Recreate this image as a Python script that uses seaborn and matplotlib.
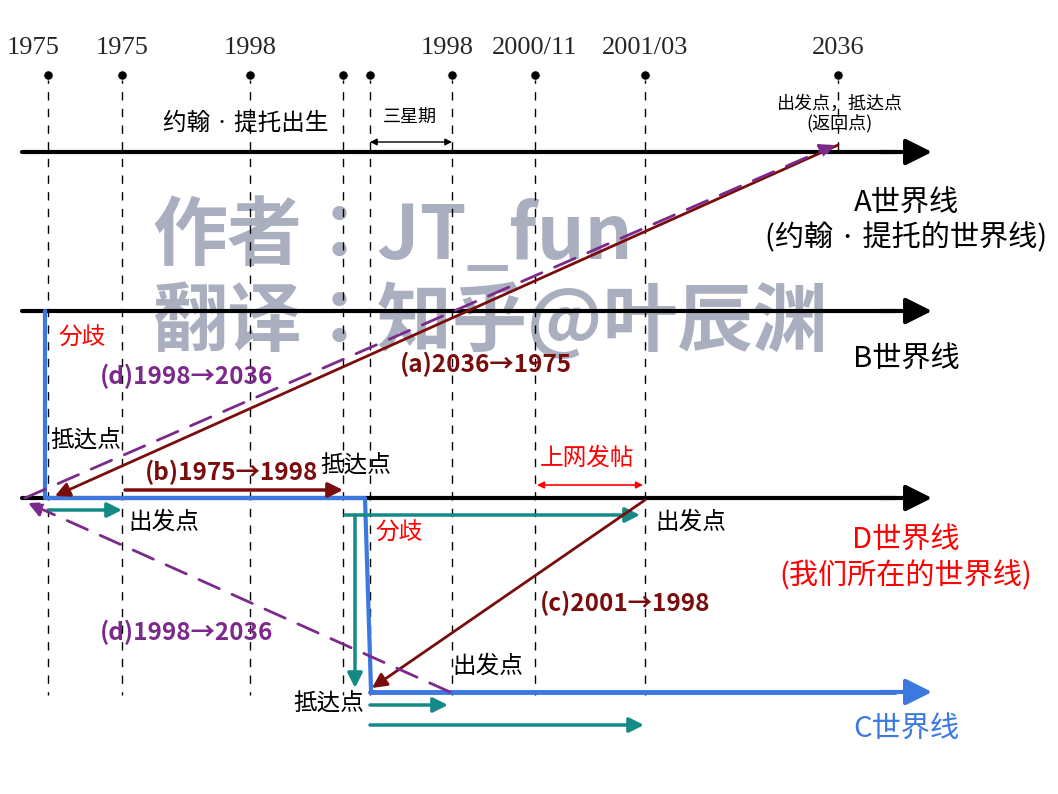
import matplotlib.pyplot as plt
import seaborn as sns

sns.set_theme(style="white")
cjk = ["Noto Sans CJK SC", "Noto Sans CJK JP", "Noto Sans CJK TC", "DejaVu Sans"]

# timeline events (x in pixel space of the diagram)
top_labels = ["1975", "1975", "1998", "1998", "2000/11", "2001/03", "2036"]
top_label_x = [33, 122, 250, 447, 535, 645, 838]
dot_x = [48, 122, 250, 343, 370, 452, 535, 645, 838]
guide_x = [48, 122, 250, 343, 370, 452, 535, 645]

# world lines y positions
world_y = {"A": 152, "B": 311, "D": 498}

fig = plt.figure(figsize=(10.58, 7.94), dpi=100)
ax = fig.add_axes([0, 0, 1, 1])
ax.set_xlim(0, 1058)
ax.set_ylim(794, 0)
ax.axis("off")

red = "#7a0c0c"
purple = "#7b2a8c"
teal = "#138a86"
blue = "#3b78e0"

def arrow(x0, y0, x1, y1, color, lw=2.5, style="-|>", ms=22, ls="-"):
    ax.annotate("", xy=(x1, y1), xytext=(x0, y0),
                arrowprops=dict(arrowstyle=style, color=color, lw=lw,
                                mutation_scale=ms, linestyle=ls,
                                shrinkA=0, shrinkB=0))

# guides
for x in guide_x:
    ax.plot([x, x], [75, 695], color="black", lw=1, ls=(0, (6, 6)))
ax.plot([838, 838], [75, 150], color="black", lw=1, ls=(0, (6, 6)))
sns.scatterplot(x=dot_x, y=[75] * len(dot_x), color="black", s=45, ax=ax, zorder=5)
for t, x in zip(top_labels, top_label_x):
    ax.text(x, 48, t, fontsize=19, family="Liberation Serif", ha="center", va="center")

# watermark
ax.text(152, 237, "作者：JT_fun", fontsize=54, family=cjk, weight="bold",
        color="#9aa1b3", alpha=0.85, va="center", zorder=1)
ax.text(152, 322, "翻译：知乎@叶辰渊", fontsize=54, family=cjk, weight="bold",
        color="#9aa1b3", alpha=0.85, va="center", zorder=1)

# world lines
for y in world_y.values():
    ax.plot([22, 895], [y, y], color="black", lw=3)
    arrow(880, y, 932, y, "black", lw=3, ms=40)
ax.plot([370, 895], [692, 692], color=blue, lw=3.5)
arrow(880, 692, 932, 692, blue, lw=3, ms=40)

# blue branch path
ax.plot([45, 45, 365, 371], [311, 498, 498, 690], color=blue, lw=3)

# teal arrows
arrow(48, 510, 122, 510, teal)
arrow(345, 515, 640, 515, teal)
arrow(355, 515, 355, 688, teal)
arrow(370, 705, 448, 705, teal)
arrow(370, 725, 644, 725, teal)

# dark red trips
arrow(838, 145, 55, 496, red, lw=2)
arrow(125, 490, 343, 490, red, lw=2.5)
arrow(645, 500, 372, 688, red, lw=2)

# purple dashed trips
arrow(25, 498, 835, 145, purple, lw=2, ls=(0, (8, 5)))
arrow(450, 692, 28, 503, purple, lw=2, ls=(0, (8, 5)))

# small double arrows
arrow(370, 142, 452, 142, "black", lw=1, style="<|-|>", ms=10)
arrow(537, 485, 643, 485, "red", lw=1.2, style="<|-|>", ms=10)

def txt(x, y, s, size=17, color="black", **kw):
    ax.text(x, y, s, fontsize=size, family=cjk, color=color, va="center", **kw)

txt(163, 123, "约翰 · 提托出生", 17)
txt(383, 117, "三星期", 13)
txt(840, 114, "出发点，抵达点\n(返回点)", 13, ha="center", linespacing=1.1)
txt(906, 204, "A世界线", 21, ha="center")
txt(906, 238, "(约翰 · 提托的世界线)", 21, ha="center")
txt(906, 360, "B世界线", 21, ha="center")
txt(906, 541, "D世界线", 21, color="red", ha="center")
txt(906, 576, "(我们所在的世界线)", 21, color="red", ha="center")
txt(906, 730, "C世界线", 21, color=blue, ha="center")
txt(58, 338, "分歧", 17, color="red")
txt(100, 376, "(d)1998→2036", 17.5, color=purple, weight="bold")
txt(400, 364, "(a)2036→1975", 17.5, color=red, weight="bold")
txt(50, 440, "抵达点", 17)
txt(145, 472, "(b)1975→1998", 17.5, color=red, weight="bold")
txt(320, 465, "抵达点", 17)
txt(540, 458, "上网发帖", 17, color="red")
txt(128, 522, "出发点", 17)
txt(375, 533, "分歧", 17, color="red")
txt(655, 522, "出发点", 17)
txt(540, 603, "(c)2001→1998", 17.5, color=red, weight="bold")
txt(100, 632, "(d)1998→2036", 17.5, color=purple, weight="bold")
txt(452, 666, "出发点", 17)
txt(293, 703, "抵达点", 17)

fig.savefig("out.png", dpi=100)
